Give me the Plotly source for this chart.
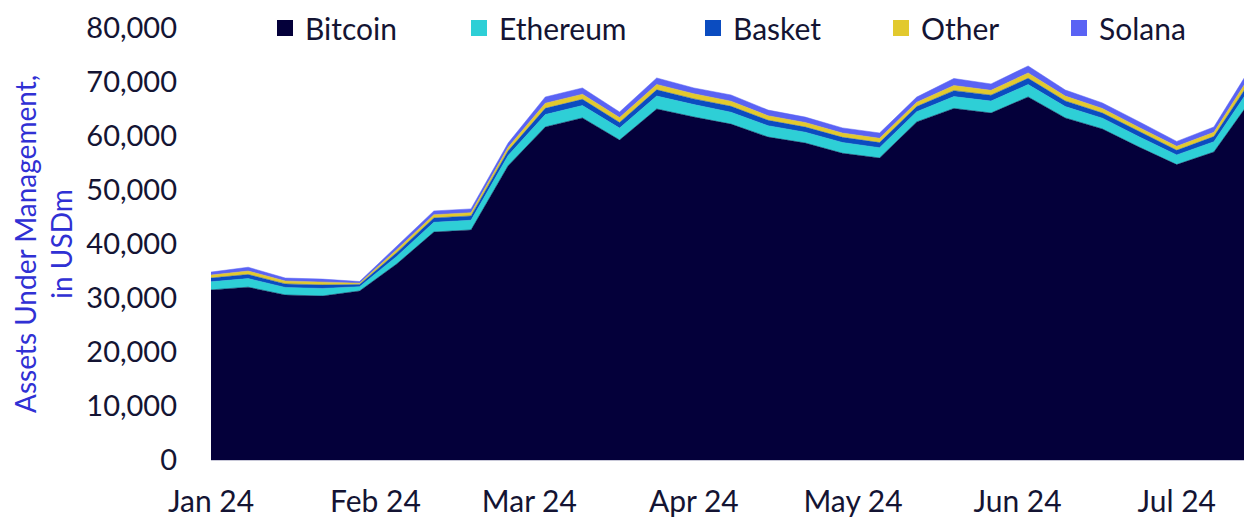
import plotly.graph_objects as go
import pandas as pd

dates = pd.date_range("2024-01-01", periods=29, freq="7D")

bitcoin = [31500, 32000, 30560, 30370, 31300, 36300, 42220, 42600, 54500, 61670,
           63340, 59260, 65000, 63520, 62200, 59800, 58700, 56800, 55930, 62600,
           65100, 64260, 67230, 63340, 61300, 57900, 54700, 57040, 66670]
ethereum = [1500, 1600, 1400, 1400, 800, 1400, 1800, 1800, 1900, 2300,
            2300, 2200, 2400, 2300, 2200, 2100, 2000, 2000, 1900, 1900,
            2200, 2200, 2300, 2100, 2000, 1900, 1800, 1900, 2500]
basket = [700, 750, 650, 650, 400, 700, 800, 800, 850, 1150,
          1150, 1050, 1150, 1050, 1100, 1000, 950, 950, 950, 950,
          1100, 1100, 1150, 1050, 950, 950, 850, 950, 1200]
other = [550, 650, 550, 550, 250, 550, 600, 600, 650, 950,
         950, 900, 1000, 950, 950, 850, 850, 800, 800, 800,
         950, 900, 1000, 900, 850, 800, 750, 800, 1050]
solana = [550, 700, 540, 530, 300, 680, 700, 700, 800, 1160,
          1160, 1040, 1200, 1080, 1150, 1050, 1000, 950, 980, 950,
          1300, 1180, 1290, 1130, 1020, 1050, 900, 980, 1350]

series = [
    ("Bitcoin", bitcoin, "#04003a"),
    ("Ethereum", ethereum, "#2ecfd6"),
    ("Basket", basket, "#0b4cc0"),
    ("Other", other, "#e2c92e"),
    ("Solana", solana, "#5a63f4"),
]

# page offset of the figure inside the browser window (default body margin)
OFF = 8
W, H = 1252 - OFF, 519 - OFF
L, R, T, B = 211 - OFF, 1, 28 - OFF, 59
plot_w = W - L - R

# legend box left edges (px, window coordinates) for each entry
legend_left_px = [265, 459, 693, 881, 1059]

fig = go.Figure()
for name, vals, col in series:
    fig.add_trace(go.Scatter(
        x=dates, y=vals, name=name, mode="lines", stackgroup="one",
        line=dict(width=0.5, color=col), fillcolor=col, showlegend=False,
    ))

font_family = "Lato, 'Open Sans', sans-serif"
text_col = "#141433"
fs = 30

legend_layout = {}
for i, (name, vals, col) in enumerate(series):
    key = "legend" if i == 0 else f"legend{i+1}"
    fig.add_trace(go.Scatter(
        x=[None], y=[None], mode="markers", name=name, legend=key,
        marker=dict(symbol="square", size=18, color=col), showlegend=True,
    ))
    legend_layout[key] = dict(
        x=(legend_left_px[i] - OFF - L) / plot_w, xanchor="left", y=1.0, yanchor="middle",
        bgcolor="rgba(0,0,0,0)", font=dict(size=fs, color=text_col, family=font_family),
        orientation="h", borderwidth=0,
    )

fig.update_layout(
    width=W, height=H,
    margin=dict(l=L, r=R, t=T, b=B, autoexpand=False),
    paper_bgcolor="white", plot_bgcolor="white",
    font=dict(family=font_family, size=fs, color=text_col),
    showlegend=True,
    xaxis=dict(type="date", range=[dates[0], dates[-1]], tick0="2024-01-01",
               dtick="M1", tickformat="%b %y", showgrid=False, zeroline=False,
               showline=True, linecolor="#c8c8d8", linewidth=1, ticks="",
               ticklabelstandoff=15),
    yaxis=dict(range=[0, 80000], dtick=10000, tickformat=",", showgrid=False,
               zeroline=False, showline=False, ticks="", ticklabelstandoff=33,
               tickfont=dict(size=29),
               title=dict(text="Assets Under Management,<br>in USDm",
                          font=dict(size=28, color="#3030d4"), standoff=12)),
    **legend_layout,
)

fig.write_html("out.html")
